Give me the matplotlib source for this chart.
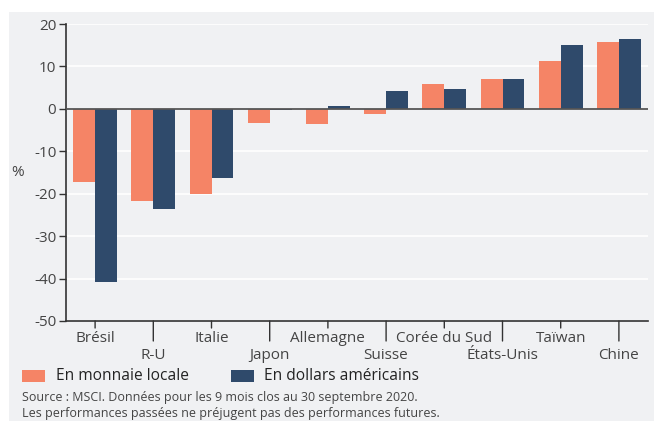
import matplotlib
matplotlib.use("Agg")
import matplotlib.pyplot as plt
from matplotlib.patches import Rectangle
import numpy as np

plt.rcParams['font.family'] = ['Open Sans', 'DejaVu Sans']

categories = ["Brésil", "R-U", "Italie", "Japon", "Allemagne", "Suisse",
              "Corée du Sud", "États-Unis", "Taïwan", "Chine"]
local_ccy = [-17.3, -21.7, -20.0, -3.3, -3.6, -1.2, 5.9, 7.1, 11.3, 15.8]
usd = [-40.8, -23.5, -16.4, -0.3, 0.6, 4.1, 4.6, 7.1, 15.1, 16.5]
series_names = ["En monnaie locale", "En dollars américains"]
yticks = [20, 10, 0, -10, -20, -30, -40, -50]

ORANGE = "#F58466"
NAVY = "#2F4A6B"
BG = "#F0F1F3"
TXT = "#444444"

W, H = 654, 421
fig = plt.figure(figsize=(W/100, H/100), dpi=100)
fig.patch.set_facecolor("white")
fig.patches.append(Rectangle((9/W, 0), 1 - 9/W, 1 - 12/H, transform=fig.transFigure,
                             facecolor=BG, edgecolor="none", zorder=-10))

ax = fig.add_axes([66/W, 1 - 321/H, (648-66)/W, (321-24)/H])
ax.set_facecolor(BG)
x = np.arange(len(categories))
bw = 0.375
ax.bar(x - bw/2, local_ccy, bw, color=ORANGE, zorder=3)
ax.bar(x + bw/2, usd, bw, color=NAVY, zorder=3)

ax.set_xlim(-0.5, len(categories) - 0.5)
ax.set_ylim(-50, 20)
ax.set_yticks(yticks)
ax.set_yticklabels([str(v) for v in yticks])
ax.grid(axis='y', color='white', linewidth=1.2, zorder=1)
ax.axhline(0, color="#555555", linewidth=1.3, zorder=4)

for s in ["top", "right"]:
    ax.spines[s].set_visible(False)
for s in ["left", "bottom"]:
    ax.spines[s].set_color("#333333")
    ax.spines[s].set_linewidth(1.2)

ax.tick_params(axis='y', length=5, width=1, color="#333333", labelsize=11,
               labelcolor=TXT, pad=2)
ax.set_xticks(x)
ax.set_xticklabels([])
ax.tick_params(axis='x', length=0)

# alternating tick marks and labels
for i, c in enumerate(categories):
    long = (i % 2 == 1)
    tl = 20 if long else 7
    ax.annotate("", xy=(i, 0), xycoords=('data', 'axes fraction'),
                xytext=(i, -tl), textcoords=('data', 'offset pixels'),
                arrowprops=dict(arrowstyle='-', color="#333333", lw=1.0,
                                shrinkA=0, shrinkB=0), annotation_clip=False)
    ax.annotate(c, xy=(i, 0), xycoords=('data', 'axes fraction'),
                xytext=(0, -27 if long else -10), textcoords='offset pixels',
                ha='center', va='top', fontsize=11, color=TXT,
                annotation_clip=False)

fig.text(18/W, 1 - 172/H, "%", fontsize=11, color=TXT, ha='center', va='center')

# legend
fig.patches.append(Rectangle((22/W, 1 - 382/H), 23/W, 12/H, transform=fig.transFigure,
                             facecolor=ORANGE, edgecolor="none"))
fig.text(56/W, 1 - 376/H, series_names[0], fontsize=11.2, color="#222222", va='center')
fig.patches.append(Rectangle((231/W, 1 - 382/H), 23/W, 12/H, transform=fig.transFigure,
                             facecolor=NAVY, edgecolor="none"))
fig.text(264/W, 1 - 376/H, series_names[1], fontsize=11.2, color="#222222", va='center')

fig.text(22/W, 1 - 398/H, "Source : MSCI. Données pour les 9 mois clos au 30 septembre 2020.",
         fontsize=9, color=TXT, va='center')
fig.text(22/W, 1 - 413/H, "Les performances passées ne préjugent pas des performances futures.",
         fontsize=9, color=TXT, va='center')

fig.savefig("out.png", dpi=100, facecolor=fig.get_facecolor())
